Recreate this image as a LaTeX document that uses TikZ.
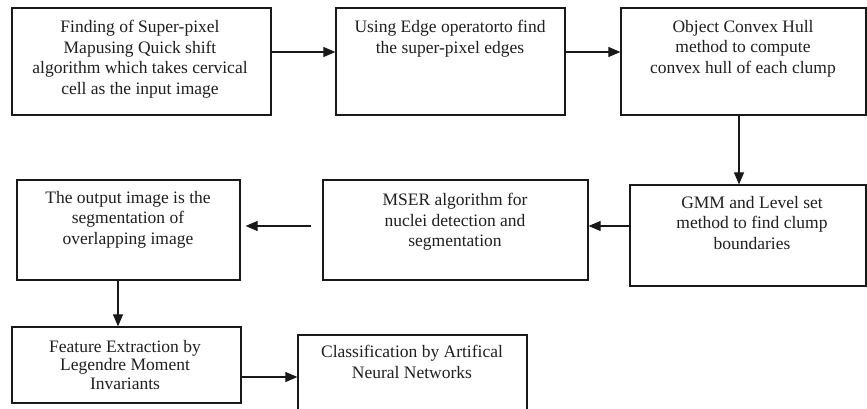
\documentclass[tikz,border=0pt]{standalone}
\usepackage{fontspec}
\setmainfont{Liberation Serif}
\usetikzlibrary{arrows.meta}
\tikzset{
  box/.style={draw=black!90, line width=1.2pt, inner sep=0pt},
  txt/.style={anchor=north, align=center, inner sep=0pt, text=black!88,
              font=\fontsize{17.5}{20.5}\selectfont},
  arr/.style={draw=black!90, line width=1.1pt,
              -{Triangle[length=12pt,width=10pt]}}
}
\begin{document}
\begin{tikzpicture}[x=1pt,y=-1pt]
\useasboundingbox (0,0) rectangle (867,409);
\clip (0,0) rectangle (867,409);
% process boxes
\node[box, minimum width=259, minimum height=107] (b1) at (141.5,61.5) {};
\node[box, minimum width=229, minimum height=107] (b2) at (450.5,61.5) {};
\node[box, minimum width=245, minimum height=107] (b3) at (743.5,61.5) {};
\node[box, minimum width=236, minimum height=101] (gmm) at (748,235.5) {};
\node[box, minimum width=265, minimum height=100] (mser) at (455.5,230) {};
\node[box, minimum width=223, minimum height=100] (out) at (128.5,230) {};
\node[box, minimum width=229, minimum height=76] (feat) at (126.5,365) {};
\node[box, minimum width=229, minimum height=100] (cls) at (412.5,385) {};
% box texts
\node[txt] (t1) at (140,20) {Finding of Super-pixel\\Mapusing Quick  shift\\algorithm which takes cervical\\cell as the input image};
\node[txt] (t2) at (450,20) {Using Edge operatorto find\\the  super-pixel edges};
\node[txt] (t3) at (743,20) {Object Convex Hull\\method  to compute\\convex hull of each clump};
\node[txt] (t4) at (752,196) {GMM and Level set\\method to find clump\\boundaries};
\node[txt] (t5) at (455,193) {MSER algorithm for\\nuclei detection and\\segmentation};
\node[txt] (t6) at (128,191) {The output image is the\\segmentation of\\overlapping image};
\node[txt, font=\fontsize{17.5}{18.5}\selectfont] (t7) at (125,340) {Feature Extraction by\\Legendre Moment\\Invariants};
\node[txt] (t8) at (412,345) {Classification by Artifical\\Neural Networks};
% connector levels
\coordinate (r1) at (0,52);
\coordinate (r2) at (0,226);
\coordinate (r3) at (0,377);
\coordinate (c1) at (739,0);
\coordinate (c2) at (118,0);
% connectors
\draw[arr] (b1.east |- r1) -- (b2.west |- r1);
\draw[arr] (b2.east |- r1) -- (b3.west |- r1);
\draw[arr] (b3.south -| c1) -- (gmm.north -| c1);
\draw[arr] (gmm.west |- r2) -- (mser.east |- r2);
\draw[arr, shorten <=11pt, shorten >=5pt] (mser.west |- r2) -- (out.east |- r2);
\draw[arr] (out.south -| c2) -- (feat.north -| c2);
\draw[arr] (feat.east |- r3) -- (cls.west |- r3);
\end{tikzpicture}
\end{document}
